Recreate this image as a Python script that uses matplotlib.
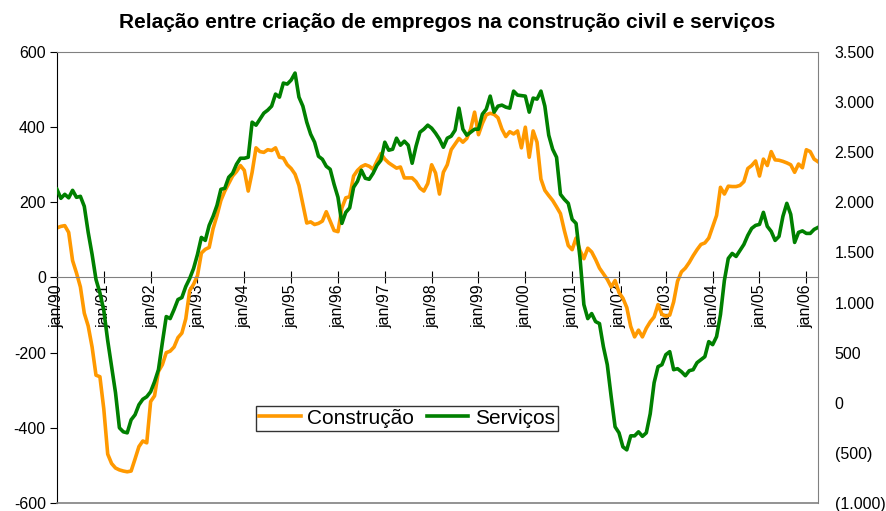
import matplotlib.pyplot as plt
from matplotlib.ticker import FuncFormatter

# monthly series, jan/90 .. apr/06
construcao = [
    132, 136, 138, 120, 45, 12, -25, -95, -129, -185, -260, -264,
    -350, -470, -495, -507, -512, -515, -517, -515, -483, -450, -435, -440,
    -330, -315, -250, -232, -200, -196, -185, -160, -148, -110, -35, -18,
    5, 65, 75, 80, 130, 165, 205, 230, 250, 270, 282, 298,
    285, 230, 280, 345, 335, 333, 340, 338, 345, 320, 318, 300,
    290, 275, 245, 195, 145, 148, 141, 144, 150, 175, 150, 125,
    122, 185, 212, 215, 270, 285, 295, 300, 296, 288, 310, 330,
    315, 305, 298, 291, 294, 265, 265, 265, 255, 238, 230, 250,
    300, 278, 222, 280, 300, 340, 355, 370, 360, 370, 395, 440,
    380, 410, 433, 437, 434, 425, 395, 375, 388, 382, 390, 345,
    400, 320, 390, 360, 262, 232, 218, 205, 188, 170, 125, 85,
    74, 105, 72, 50, 78, 68, 48, 25, 10, -5, -25, -8,
    -40, -55, -80, -130, -158, -140, -158, -135, -118, -105, -72, -98,
    -103, -100, -65, -10, 15, 25, 40, 58, 74, 88, 92, 105,
    135, 165, 240, 222, 243, 242, 242, 245, 255, 290, 298, 310,
    270, 315, 298, 335, 313, 312, 309, 305, 300, 280, 302, 292,
    340, 335, 315, 308,
]
servicos = [
    2130, 2040, 2080, 2045, 2120, 2050, 2060, 1960, 1700, 1480, 1230, 1097,
    920, 620, 360, 100, -250, -290, -300, -170, -120, -20, 35, 60,
    110, 210, 330, 600, 860, 840, 930, 1030, 1050, 1160, 1240, 1340,
    1480, 1650, 1620, 1770, 1860, 1970, 2130, 2140, 2250, 2290, 2380, 2440,
    2440, 2450, 2800, 2770, 2830, 2890, 2920, 2960, 3080, 3050, 3190, 3180,
    3220, 3290, 3050, 2960, 2800, 2680, 2600, 2460, 2430, 2360, 2330, 2180,
    2050, 1790, 1900, 1945, 2150, 2210, 2320, 2240, 2230, 2290, 2370, 2420,
    2600, 2520, 2530, 2640, 2570, 2610, 2570, 2390, 2560, 2700, 2730, 2770,
    2740, 2690, 2630, 2550, 2640, 2660, 2720, 2940, 2730, 2670, 2700, 2730,
    2730, 2880, 2930, 3060, 2900, 2960, 2970, 2950, 2940, 3110, 3070, 3065,
    3060, 2900, 3040, 3030, 3110, 2960, 2670, 2530, 2450, 2080, 2030, 1990,
    1830, 1790, 1450, 980, 840, 890, 810, 790, 560, 380, 60, -240,
    -300, -440, -470, -330, -330, -290, -335, -300, -110, 200, 360, 380,
    480, 510, 330, 340, 310, 270, 320, 330, 400, 430, 460, 610,
    580, 660, 880, 1220, 1440, 1490, 1460, 1520, 1580, 1670, 1740, 1770,
    1780, 1900, 1760, 1710, 1620, 1660, 1860, 1990, 1880, 1600, 1700, 1715,
    1690, 1690, 1730, 1750,
]
anos = ['90', '91', '92', '93', '94', '95', '96', '97', '98', '99',
        '00', '01', '02', '03', '04', '05', '06']
tick_labels = ['jan/' + a for a in anos]

plt.rcParams['font.family'] = ['Liberation Sans', 'DejaVu Sans']
plt.rcParams['axes.unicode_minus'] = False

meses = list(range(len(construcao)))

fig = plt.figure(figsize=(8.86, 5.11), dpi=100)
ax = fig.add_axes([0.0643, 0.0157, 0.859, 0.8825])
ax2 = ax.twinx()

l1, = ax.plot(meses, construcao, color='#FF9900', lw=2.6, label='Construção')
l2, = ax2.plot(meses, servicos, color='#008000', lw=2.6, label='Serviços')

ax.set_xlim(0, len(construcao) - 1)
ax.set_ylim(-600, 600)
ax.set_yticks(range(-600, 601, 200))
ax2.set_ylim(-1000, 3500)
ax2.set_yticks(range(-1000, 3501, 500))

def fmt_dir(v, pos):
    s = f'{abs(int(v)):,}'.replace(',', '.')
    return f'({s})' if v < 0 else s

ax2.yaxis.set_major_formatter(FuncFormatter(fmt_dir))

ax.set_xticks(range(0, len(construcao), 12))
ax.set_xticklabels(tick_labels)

ax.spines['bottom'].set_position(('data', 0))
for s in ['bottom', 'top', 'right']:
    ax.spines[s].set_color('#808080')
for s in ['bottom', 'top', 'right', 'left']:
    ax2.spines[s].set_visible(False)
ax.spines['left'].set_color('black')
ax.axhline(-600, color='#808080', lw=1.2, clip_on=False, zorder=5)

ax.tick_params(axis='x', direction='inout', length=8, pad=1, labelsize=11.5,
               labelrotation=90, color='black')
ax.tick_params(axis='y', direction='out', length=5, pad=3, labelsize=11.5)
ax2.tick_params(axis='y', length=0, pad=12, labelsize=11.5)

leg = ax2.legend(handles=[l1, l2], loc='center', bbox_to_anchor=(0.46, 0.188),
                 ncol=2, fontsize=15, frameon=True, fancybox=False,
                 handlelength=2.0, handletextpad=0.3, columnspacing=0.6,
                 borderpad=0.15, borderaxespad=0)
leg.get_frame().set_edgecolor('black')
leg.get_frame().set_linewidth(1.0)

fig.suptitle('Relação entre criação de empregos na construção civil e serviços',
             x=0.505, y=0.975, fontsize=15, fontweight='bold', va='top')

fig.savefig('out.png', dpi=100)
